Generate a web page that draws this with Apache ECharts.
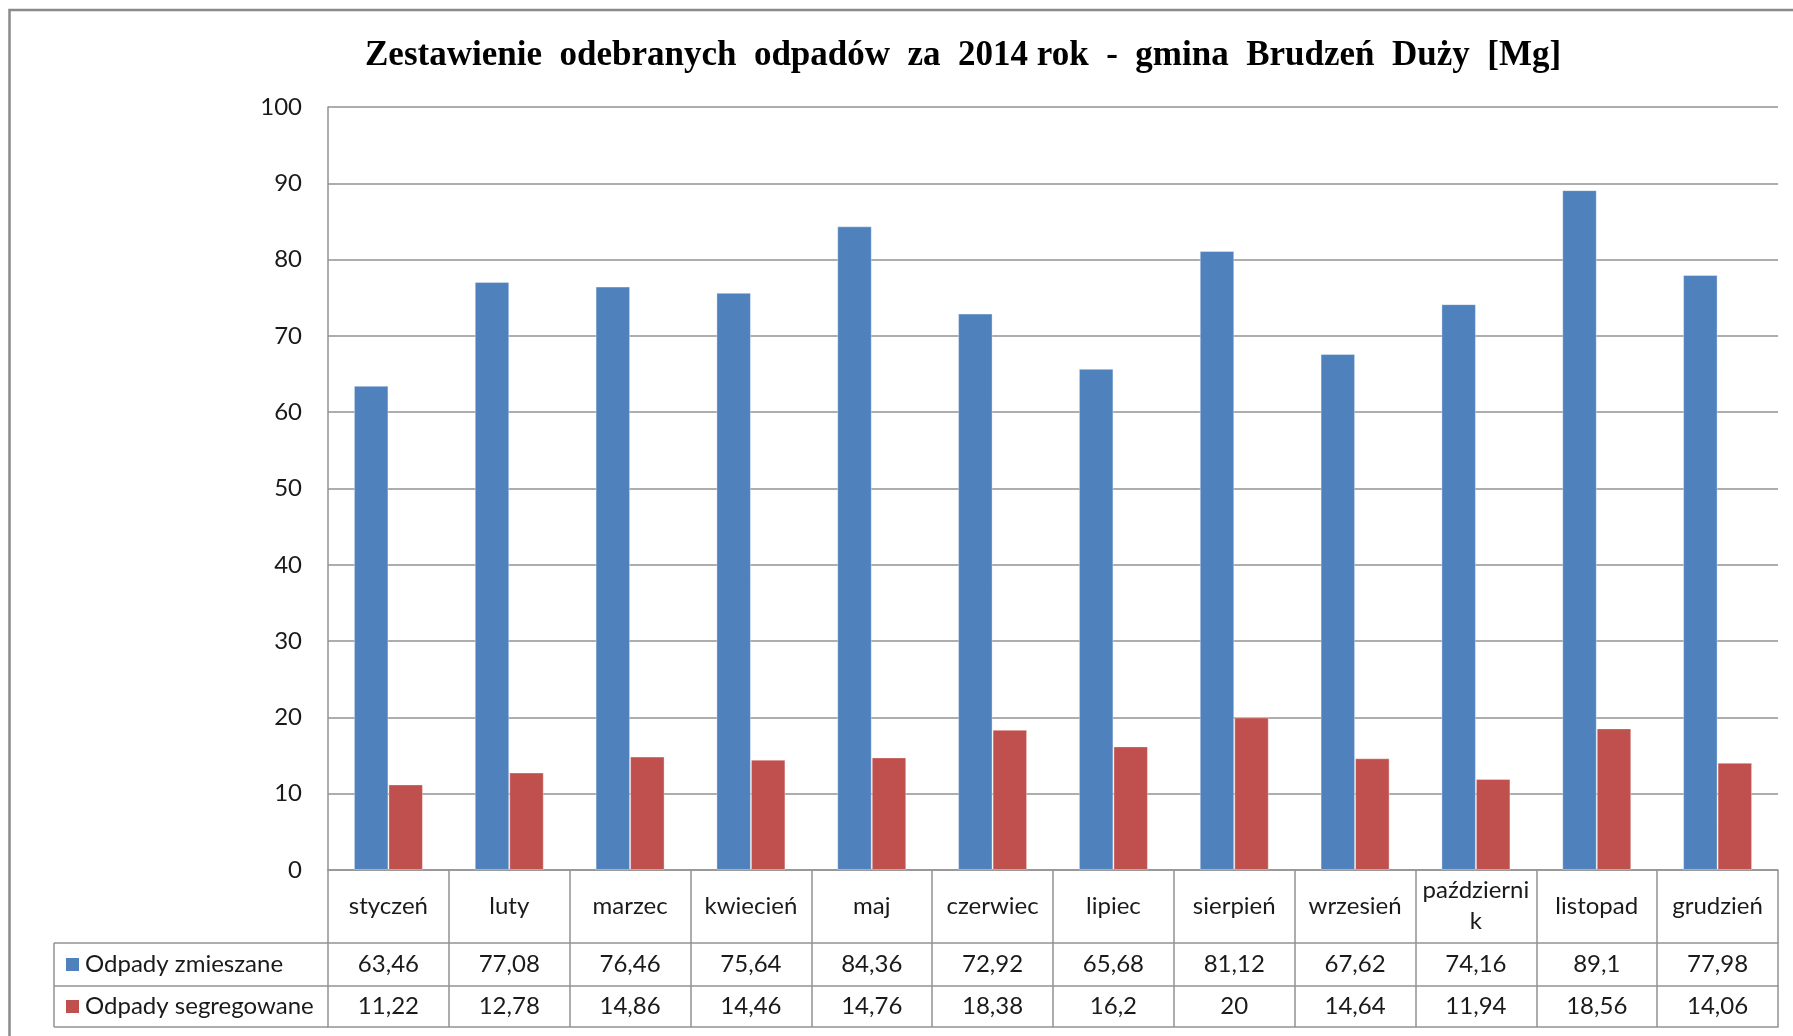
<!DOCTYPE html>
<html>
<head>
<meta charset="utf-8">
<script src="https://cdn.jsdelivr.net/npm/echarts@6/dist/echarts.min.js"></script>
<style>
  html, body { margin: 0; padding: 0; background: #fff; }
  #chart { width: 1793px; height: 1036px; }
</style>
</head>
<body>
<div id="chart"></div>
<script>
// dane z wykresu
const months = ['styczeń', 'luty', 'marzec', 'kwiecień', 'maj', 'czerwiec', 'lipiec', 'sierpień', 'wrzesień', 'październi\nk', 'listopad', 'grudzień'];
const mixed = [63.46, 77.08, 76.46, 75.64, 84.36, 72.92, 65.68, 81.12, 67.62, 74.16, 89.1, 77.98];
const sorted = [11.22, 12.78, 14.86, 14.46, 14.76, 18.38, 16.2, 20, 14.64, 11.94, 18.56, 14.06];
const seriesNames = ['Odpady zmieszane', 'Odpady segregowane'];
const colors = ['#4F81BD', '#C0504D'];

const gridColor = '#929292';
const font = 'Lato';
const fontSize = 24;
const textColor = '#1a1a1a';
const fmt = v => String(v).replace('.', ',');

var chart = echarts.init(document.getElementById('chart'));

function tableAxis(offset, tickLen, values, margin) {
  return {
    type: 'category',
    data: months,
    position: 'bottom',
    offset: offset,
    axisLine: { show: true, lineStyle: { color: gridColor, width: 1.5 } },
    axisTick: { show: tickLen > 0, length: tickLen, interval: 0, lineStyle: { color: gridColor, width: 1.5 } },
    axisLabel: {
      show: !!values,
      interval: 0,
      margin: margin,
      verticalAlign: 'middle',
      fontFamily: font,
      fontSize: fontSize,
      color: textColor,
      formatter: function (val, idx) { return values ? fmt(values[idx]) : ''; }
    }
  };
}

const option = {
  animation: false,
  backgroundColor: '#fff',
  title: {
    text: 'Zestawienie  odebranych  odpadów  za  2014 rok  -  gmina  Brudzeń  Duży  [Mg]',
    left: 360,
    top: 33,
    textStyle: { fontFamily: 'Liberation Serif', fontWeight: 'bold', fontSize: 35, color: '#000' }
  },
  grid: { left: 328, right: 15, top: 107, bottom: 166 },
  xAxis: [
    {
      type: 'category',
      data: months,
      position: 'bottom',
      axisLine: { show: true, lineStyle: { color: gridColor, width: 1.5 } },
      axisTick: { show: true, length: 73, interval: 0, lineStyle: { color: gridColor, width: 1.5 } },
      axisLabel: {
        interval: 0,
        margin: 36,
        verticalAlign: 'middle',
        lineHeight: 31,
        fontFamily: font,
        fontSize: fontSize,
        color: textColor
      }
    },
    tableAxis(73, 43, mixed, 21.5),
    tableAxis(116, 41, sorted, 20.5),
    tableAxis(157, 0, null, 0)
  ],
  yAxis: {
    type: 'value',
    min: 0,
    max: 100,
    interval: 10,
    axisLine: { show: true, lineStyle: { color: gridColor, width: 1.5 } },
    axisTick: { show: false },
    axisLabel: { margin: 26, fontFamily: font, fontSize: fontSize, color: textColor },
    splitLine: { lineStyle: { color: gridColor, width: 1.5 } }
  },
  series: [
    {
      name: seriesNames[0],
      type: 'bar',
      data: mixed,
      barWidth: 34.5,
      barGap: '0%',
      itemStyle: { color: colors[0], borderColor: 'rgba(255,255,255,0.35)', borderWidth: 1 }
    },
    {
      name: seriesNames[1],
      type: 'bar',
      data: sorted,
      barWidth: 34.5,
      barGap: '0%',
      itemStyle: { color: colors[1], borderColor: 'rgba(255,255,255,0.35)', borderWidth: 1 }
    }
  ],
  graphic: [
    // ramka wykresu
    { type: 'rect', shape: { x: 9.5, y: 10, width: 1800, height: 1100 }, style: { fill: 'none', stroke: '#8a8a8a', lineWidth: 2.5 }, silent: true },
    // komorka legendy w tabeli
    { type: 'line', shape: { x1: 54, y1: 943, x2: 328, y2: 943 }, style: { stroke: gridColor, lineWidth: 1.5 } },
    { type: 'line', shape: { x1: 54, y1: 986, x2: 328, y2: 986 }, style: { stroke: gridColor, lineWidth: 1.5 } },
    { type: 'line', shape: { x1: 54, y1: 1027, x2: 328, y2: 1027 }, style: { stroke: gridColor, lineWidth: 1.5 } },
    { type: 'line', shape: { x1: 54, y1: 943, x2: 54, y2: 1027 }, style: { stroke: gridColor, lineWidth: 1.5 } },
    { type: 'rect', shape: { x: 66, y: 958, width: 13, height: 13 }, style: { fill: colors[0] } },
    { type: 'rect', shape: { x: 66, y: 1000, width: 13, height: 13 }, style: { fill: colors[1] } },
    { type: 'text', x: 85, y: 964.5, style: { text: seriesNames[0], font: fontSize + 'px Lato', fill: textColor, verticalAlign: 'middle' } },
    { type: 'text', x: 85, y: 1006.5, style: { text: seriesNames[1], font: fontSize + 'px Lato', fill: textColor, verticalAlign: 'middle' } }
  ]
};

chart.setOption(option);
window.addEventListener('resize', function () {
  chart.resize();
});
</script>
</body>
</html>
